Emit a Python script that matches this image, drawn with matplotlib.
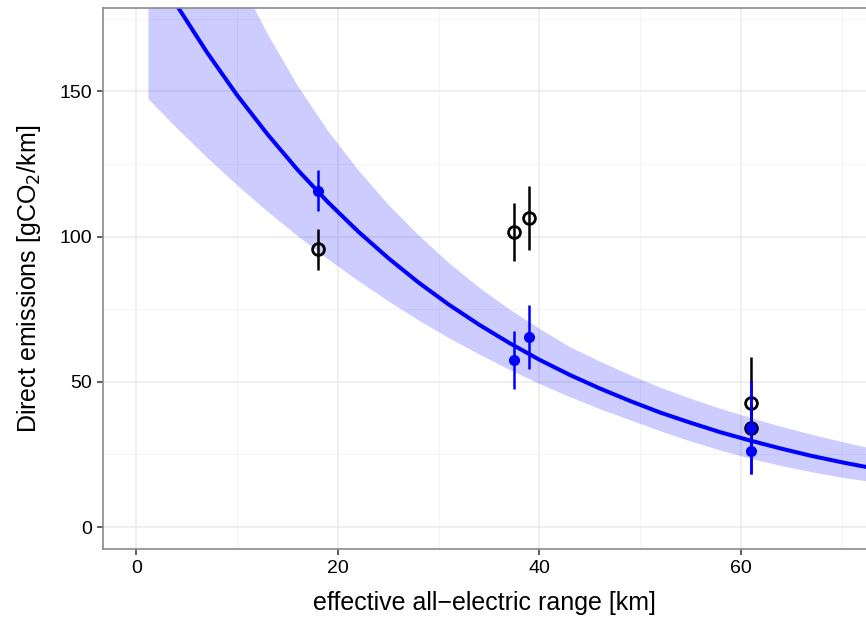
import numpy as np
import matplotlib
matplotlib.use("Agg")
from matplotlib import pyplot as plt

plt.rcParams['font.family'] = ['Liberation Sans', 'DejaVu Sans']

# Fitted curve and its uncertainty band
fit_x = [1.2, 4, 7, 10, 13, 16, 19, 22, 25, 28, 31, 34, 37, 40, 43, 46, 49, 52, 55, 58, 61, 64, 67, 70, 73]
fit_y = [196.4, 179.7, 163.5, 148.7, 135.3, 123.0, 111.9, 101.8, 92.6, 84.2, 76.6, 69.7, 63.4,
         57.6, 52.4, 47.7, 43.4, 39.4, 35.9, 32.6, 29.7, 27.0, 24.5, 22.3, 20.3]
band_lo = [147.4, 137.4, 127.3, 117.7, 108.7, 100.2, 92.3, 84.8, 77.8, 71.2, 65.1, 59.5, 54.2,
           49.3, 44.8, 40.6, 36.8, 33.0, 29.5, 26.3, 23.5, 21.0, 18.9, 17.0, 15.5]
band_hi = [268, 242, 214, 190, 170, 152, 136.5, 123, 111, 100.5, 91, 82.5, 75,
           68.3, 62, 57, 52.3, 48, 44.2, 40.7, 37.5, 34.5, 31.8, 29.3, 27]

# Measured points: x = all-electric range, black = open circles, blue = filled
range_km = [18, 37.5, 39, 61, 61]
black_val = [95.6, 101.5, 106.5, 42.6, 34.2]
black_err = [7, 10, 11, 16, 8]
blue_val = [115.8, 57.5, 65.3, 34.2, 26.3]
blue_err = [7, 10, 11, 16, 8]

fig = plt.figure(figsize=(8.66, 6.17), dpi=100)
ax = fig.add_axes([0.119, 0.110, 0.881, 0.877])

ax.fill_between(fit_x, band_lo, band_hi, color='#0000FF', alpha=0.2, linewidth=0, zorder=1)
ax.plot(fit_x, fit_y, color='#0000FF', linewidth=2.9, zorder=2)

ax.errorbar(range_km, black_val, yerr=black_err, fmt='o', color='black', ecolor='black',
            elinewidth=1.8, markersize=8.5, markerfacecolor='none', markeredgewidth=2.0,
            capsize=0, zorder=3)
ax.errorbar(range_km, blue_val, yerr=blue_err, fmt='o', color='#0000FF', ecolor='#0000FF',
            elinewidth=1.8, markersize=8, markeredgewidth=0, capsize=0, zorder=4)

ax.set_xlim(-3.3, 72.4)
ax.set_ylim(-7.6, 178.7)
ax.set_xticks([0, 20, 40, 60])
ax.set_yticks([0, 50, 100, 150])
ax.set_xticks([10, 30, 50, 70], minor=True)
ax.set_yticks([25, 75, 125, 175], minor=True)
ax.grid(which='major', color='#EBEBEB', linewidth=1.1, zorder=0)
ax.grid(which='minor', color='#F2F2F2', linewidth=0.6, zorder=0)
ax.set_axisbelow(True)

ax.tick_params(which='major', direction='out', length=4, width=1.1, color='#333333',
               labelsize=14, labelcolor='black', pad=4)
ax.tick_params(which='minor', length=0)

for side in ['left', 'bottom', 'top']:
    ax.spines[side].set_color('#8a8a8a')
    ax.spines[side].set_linewidth(1.2)
ax.spines['right'].set_visible(False)

ax.set_xlabel('effective all\u2212electric range [km]', fontsize=18, labelpad=10)
ax.set_ylabel('Direct emissions [gCO$_2$/km]', fontsize=18, labelpad=12)

plt.savefig("out.png", dpi=100)
